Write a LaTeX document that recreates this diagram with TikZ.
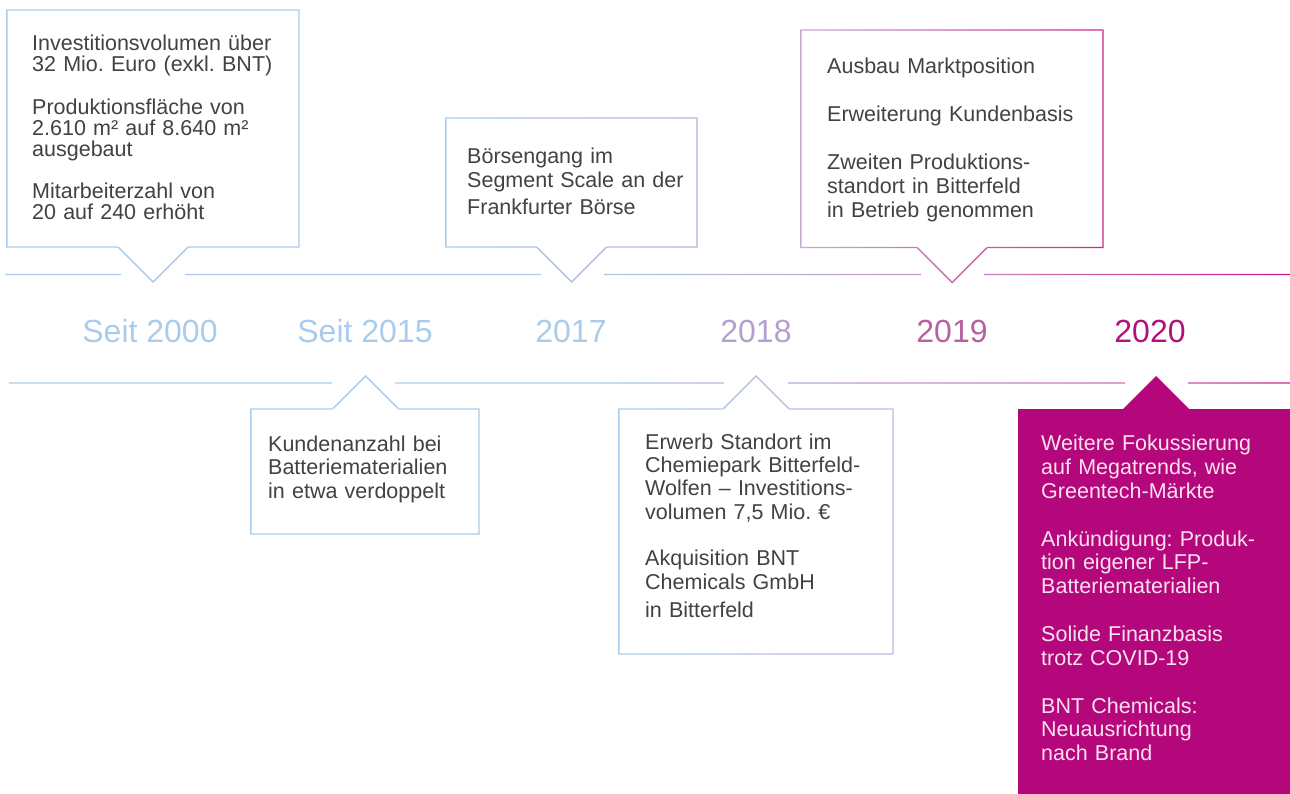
\documentclass[tikz,border=0pt]{standalone}
\usepackage{fontspec}
\setmainfont{Liberation Sans}
\frenchspacing
\definecolor{cb}{RGB}{170,204,236}
\definecolor{uA}{RGB}{182,182,222}
\definecolor{uB}{RGB}{196,150,202}
\definecolor{uC}{RGB}{200,90,165}
\definecolor{uD}{RGB}{200,25,140}
\definecolor{lA}{RGB}{185,170,212}
\definecolor{lB}{RGB}{200,115,175}
\definecolor{lC}{RGB}{200,40,145}
\definecolor{bBr}{RGB}{190,175,218}
\definecolor{bCl}{RGB}{200,170,215}
\definecolor{bCr}{RGB}{205,40,140}
\definecolor{bEr}{RGB}{195,185,225}
\definecolor{y18}{RGB}{180,160,206}
\definecolor{y19}{RGB}{184,96,160}
\definecolor{y20}{RGB}{178,16,122}
\definecolor{magfill}{RGB}{181,7,124}
\definecolor{txtgray}{RGB}{66,66,66}
\definecolor{txtlight}{RGB}{250,225,240}
\pgfdeclarehorizontalshading{upline}{100bp}{color(0bp)=(cb); color(45bp)=(cb); color(54.5bp)=(uA); color(60.7bp)=(uB); color(67.6bp)=(uC); color(75bp)=(uD); color(100bp)=(uD)}
\pgfdeclarehorizontalshading{lowline}{100bp}{color(0bp)=(cb); color(48bp)=(cb); color(55.5bp)=(lA); color(68.6bp)=(lB); color(75bp)=(lC); color(100bp)=(lC)}
% box with pointer at bottom: x1,y1,x2,y2,pointer x,left colour,right colour
\newcommand\boxdown[7]{%
  \begin{scope}
    \clip (#1-0.7,#2-0.7) rectangle (#3+0.7,#2+0.7)
          (#1-0.7,#2-0.7) rectangle (#1+0.7,#4+0.7)
          (#3-0.7,#2-0.7) rectangle (#3+0.7,#4+0.7)
          (#1-0.7,#4-0.7) rectangle (#5-35,#4+0.7)
          (#5+35,#4-0.7) rectangle (#3+0.7,#4+0.7)
          (#5-36,#4) -- (#5,#4+36) -- (#5+36,#4) -- (#5+34,#4) -- (#5,#4+34) -- (#5-34,#4) -- cycle;
    \shade[left color=#6, right color=#7] (#1-2,#2-2) rectangle (#3+2,#4+38);
  \end{scope}}
% box with pointer at top
\newcommand\boxup[7]{%
  \begin{scope}
    \clip (#1-0.7,#4-0.7) rectangle (#3+0.7,#4+0.7)
          (#1-0.7,#2-0.7) rectangle (#1+0.7,#4+0.7)
          (#3-0.7,#2-0.7) rectangle (#3+0.7,#4+0.7)
          (#1-0.7,#2-0.7) rectangle (#5-33,#2+0.7)
          (#5+33,#2-0.7) rectangle (#3+0.7,#2+0.7)
          (#5-34,#2) -- (#5,#2-34) -- (#5+34,#2) -- (#5+32,#2) -- (#5,#2-32) -- (#5-32,#2) -- cycle;
    \shade[left color=#6, right color=#7] (#1-2,#2-36) rectangle (#3+2,#4+2);
  \end{scope}}
\tikzset{
  body/.style={anchor=base west, inner sep=0pt, text width=320pt, align=left, text=txtgray},
  year/.style={anchor=base, inner sep=0pt, font=\fontsize{32}{32}\selectfont}
}
\begin{document}
\begin{tikzpicture}[x=1pt,y=-1pt]
\useasboundingbox (0,0) rectangle (1290,794);
\fill[white] (0,0) rectangle (1290,794);

% upper timeline
\begin{scope}
  \clip (5,273.8) rectangle (121,275.2) (185,273.8) rectangle (541,275.2)
        (604,273.8) rectangle (921,275.2) (984,273.8) rectangle (1290,275.2);
  \shade[shading=upline] (0,270) rectangle (1290,279);
\end{scope}
% lower timeline
\begin{scope}
  \clip (9,382.3) rectangle (332,383.7) (395,382.3) rectangle (724,383.7)
        (788,382.3) rectangle (1125,383.7) (1188,382.3) rectangle (1290,383.7);
  \shade[shading=lowline] (0,379) rectangle (1290,388);
\end{scope}

% callout boxes
\boxdown{7}{10}{299}{247}{153}{cb}{cb}
\boxdown{446}{118}{697}{247}{571.5}{cb}{bBr}
\boxdown{801}{30}{1103}{247.5}{952}{bCl}{bCr}
\boxup{251}{409}{479}{534}{365.5}{cb}{cb}
\boxup{619}{409}{893}{654}{756}{cb}{bEr}
\fill[magfill] (1018,409) -- (1123,409) -- (1156,376) -- (1189,409) -- (1290,409) -- (1290,794) -- (1018,794) -- cycle;

% years
\node[year, text=cb] (y2000) at (150,342) {Seit 2000};
\node[year, text=cb] (y2015) at (365,342) {Seit 2015};
\node[year, text=cb] (y2017) at (571,342) {2017};
\node[year, text=y18] (y2018) at (756,342) {2018};
\node[year, text=y19] (y2019) at (952,342) {2019};
\node[year, text=y20] (y2020) at (1150,342) {2020};

% texts
\node[body, font=\fontsize{21.5}{20.8}\selectfont] (tA) at (32,51)
  {Investitionsvolumen über\\32 Mio. Euro (exkl. BNT)\\[22pt]Produktionsfläche von\\2.610 m² auf 8.640 m²\\ausgebaut\\[22pt]Mitarbeiterzahl von\\20 auf 240 erhöht};
\node[body, font=\fontsize{21.5}{23.3}\selectfont] (tB) at (467,164)
  {Börsengang im\\Segment Scale an der\\[4.4pt]Frankfurter Börse};
\node[body, font=\fontsize{21.5}{24}\selectfont] (tC) at (827,74)
  {Ausbau Marktposition\\[24pt]Erweiterung Kundenbasis\\[24pt]Zweiten Produktions-\\standort in Bitterfeld\\in Betrieb genommen};
\node[body, font=\fontsize{21.5}{23.7}\selectfont] (tD) at (268,451)
  {Kundenanzahl bei\\Batteriematerialien\\in etwa verdoppelt};
\node[body, font=\fontsize{21.5}{23.3}\selectfont] (tE) at (645,449.3)
  {Erwerb Standort im\\Chemiepark Bitterfeld-\\Wolfen – Investitions-\\volumen 7,5 Mio. €\\[23.4pt]Akquisition BNT\\Chemicals GmbH\\[5pt]in Bitterfeld};
\node[body, text=txtlight, font=\fontsize{21.5}{23.8}\selectfont] (tF) at (1041,450.7)
  {Weitere Fokussierung\\auf Megatrends, wie\\Greentech-Märkte\\[24pt]Ankündigung: Produk-\\tion eigener LFP-\\Batteriematerialien\\[24pt]Solide Finanzbasis\\trotz COVID-19\\[24pt]BNT Chemicals:\\Neuausrichtung\\nach Brand};
\end{tikzpicture}
\end{document}
